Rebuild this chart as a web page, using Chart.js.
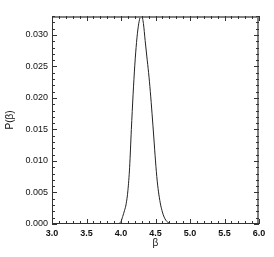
<!DOCTYPE html>
<html>
<head>
<meta charset="utf-8">
<script src="https://cdn.jsdelivr.net/npm/chart.js@4/dist/chart.umd.min.js"></script>
<style>
  html, body { margin: 0; padding: 0; background: #fff; }
  #wrap { width: 274px; height: 257px; }
</style>
</head>
<body>
<div id="wrap"><canvas id="c" width="274" height="257"></canvas></div>
<script>
const betaValues = [
  3.950, 3.975, 4.000, 4.025, 4.050, 4.075, 4.100, 4.125, 4.150, 4.175,
  4.200, 4.225, 4.250, 4.275, 4.300, 4.325, 4.350, 4.375, 4.400, 4.425,
  4.450, 4.475, 4.500, 4.525, 4.550, 4.575, 4.600, 4.625, 4.650, 4.675,
  4.700, 4.725, 4.750,
];
const probValues = [
  0.0000, 0.0001, 0.0004, 0.0012, 0.0021, 0.0032, 0.0053, 0.0090, 0.0150, 0.0205,
  0.0252, 0.0288, 0.0313, 0.0327, 0.0330, 0.0318, 0.0291, 0.0265, 0.0240, 0.0210,
  0.0175, 0.0138, 0.0100, 0.0068, 0.0046, 0.0030, 0.0019, 0.0011, 0.0006, 0.0003,
  0.0001, 0.0000, 0.0000,
];
const xTickValues = [3.0, 3.5, 4.0, 4.5, 5.0, 5.5, 6.0];
const yTickValues = [0.000, 0.005, 0.010, 0.015, 0.020, 0.025, 0.030];

const AXIS_COLOR = "#333";
const FAR_AXIS_COLOR = "#808080";
const FONT = "'Liberation Sans', Arial, sans-serif";

// minor/major ticks drawn inward on all four sides
const boxTicksPlugin = {
  id: "boxTicks",
  afterDraw(chart) {
    const { ctx, chartArea } = chart;
    const xs = chart.scales.x;
    const ys = chart.scales.y;
    const { left, right, top, bottom } = chartArea;
    ctx.save();
    ctx.lineWidth = 1;

    // top and right edges: lighter, a bit thicker
    ctx.strokeStyle = FAR_AXIS_COLOR;
    ctx.lineWidth = 2;
    ctx.beginPath();
    ctx.moveTo(left, top + 1);
    ctx.lineTo(right - 1, top + 1);
    ctx.lineTo(right - 1, bottom);
    ctx.stroke();

    ctx.strokeStyle = AXIS_COLOR;
    ctx.lineWidth = 1;
    ctx.beginPath();
    ctx.moveTo(left + 0.5, top);
    ctx.lineTo(left + 0.5, bottom - 0.5);
    ctx.lineTo(right, bottom - 0.5);
    ctx.stroke();

    for (let i = 0; i <= 30; i += 1) {
      const x = Math.round(xs.getPixelForValue(3 + i * 0.1)) + 0.5;
      const len = i % 5 === 0 ? 5 : 3;
      ctx.beginPath();
      ctx.moveTo(x, bottom);
      ctx.lineTo(x, bottom - len);
      ctx.moveTo(x, top);
      ctx.lineTo(x, top + len);
      ctx.stroke();
    }
    for (let i = 0; i <= 33; i += 1) {
      const y = Math.round(ys.getPixelForValue(i * 0.001)) + 0.5;
      const len = i % 5 === 0 ? 5 : 3;
      ctx.beginPath();
      ctx.moveTo(left, y);
      ctx.lineTo(left + len, y);
      ctx.moveTo(right, y);
      ctx.lineTo(right - len, y);
      ctx.stroke();
    }
    ctx.restore();
  },
};

new Chart(document.getElementById("c"), {
  type: "scatter",
  plugins: [boxTicksPlugin],
  data: {
    datasets: [
      {
        data: betaValues.map((b, i) => ({ x: b, y: probValues[i] })),
        showLine: true,
        borderColor: "#222",
        borderWidth: 1,
        pointRadius: 0,
        cubicInterpolationMode: "monotone",
      },
    ],
  },
  options: {
    responsive: false,
    animation: false,
    layout: { padding: { left: 0, top: 16, right: 15, bottom: 0 } },
    plugins: { legend: { display: false }, tooltip: { enabled: false } },
    scales: {
      x: {
        type: "linear",
        min: 3,
        max: 6,
        grid: { display: false, drawTicks: false },
        border: { display: false },
        afterBuildTicks(scale) {
          scale.ticks = xTickValues.map((value) => ({ value }));
        },
        ticks: {
          padding: 4,
          color: "#111",
          font: { family: FONT, size: 9, weight: "bold" },
          callback: (v) => v.toFixed(1),
        },
        title: {
          display: true,
          text: "β",
          color: "#111",
          font: { family: FONT, size: 10, lineHeight: 1 },
          padding: { top: 0, bottom: 9 },
        },
        afterFit(scale) {
          scale.height = 33;
        },
      },
      y: {
        min: 0,
        max: 0.033,
        grid: { display: false, drawTicks: false },
        border: { display: false },
        afterBuildTicks(scale) {
          scale.ticks = yTickValues.map((value) => ({ value }));
        },
        ticks: {
          padding: 4,
          color: "#111",
          font: { family: FONT, size: 9 },
          callback: (v) => v.toFixed(3),
        },
        title: {
          display: true,
          text: "P(β)",
          color: "#111",
          font: { family: FONT, size: 10, lineHeight: 1 },
          padding: { top: 5, bottom: 0 },
        },
        afterFit(scale) {
          scale.width = 52;
        },
      },
    },
  },
});
</script>
</body>
</html>
